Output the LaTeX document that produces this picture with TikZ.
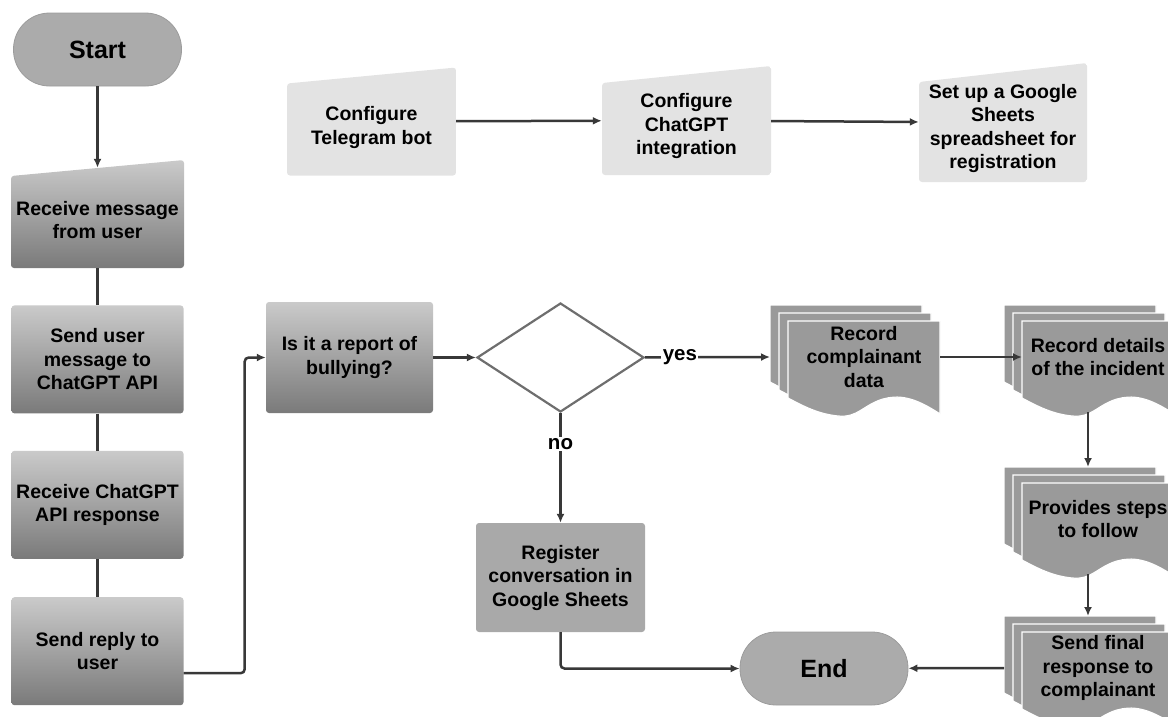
\documentclass[tikz,border=0pt]{standalone}
\usepackage{fontspec}
\setmainfont{Liberation Sans}
\usetikzlibrary{positioning,arrows.meta,shapes.geometric}
\definecolor{linegray}{HTML}{383838}
\definecolor{gtop}{HTML}{CACACA}
\definecolor{gbot}{HTML}{7A7A7A}
\definecolor{setfill}{HTML}{E3E3E3}
\definecolor{termfill}{HTML}{ABABAB}
\definecolor{termline}{HTML}{9C9C9C}
\definecolor{regfill}{HTML}{A9A9A9}
\definecolor{sheetfill}{HTML}{9A9A9A}
\definecolor{diagray}{HTML}{6E6E6E}
% extra room above the first line of a slanted box
\newcommand\slantpad{\rule{0pt}{26pt}}
\tikzset{
  >={Latex[length=9pt,width=8pt]},
  txt/.style={
    font=\bfseries\fontsize{19.5}{23.5}\selectfont,
    align=center,
    inner sep=2pt
  },
  conn/.style={draw=linegray, line width=2.5pt},
  lbl/.style={txt, font=\bfseries\fontsize{20.5}{24}\selectfont, fill=white, inner sep=1.5pt},
  term/.style={
    txt,
    font=\bfseries\fontsize{25}{30}\selectfont,
    fill=termfill,
    draw=termline,
    line width=0.8pt,
    rounded corners=36pt,
    minimum width=168pt,
    minimum height=73pt
  },
  stepbox/.style={
    txt,
    rounded corners=3pt,
    top color=gtop,
    bottom color=gbot,
    minimum width=172pt,
    minimum height=108pt
  },
  plainbox/.style={
    txt,
    rounded corners=3pt,
    fill=regfill,
    minimum width=169pt,
    minimum height=109pt
  },
  slantbox/.style={
    txt,
    rounded corners=3pt,
    minimum width=173pt,
    minimum height=108pt,
    path picture={\shade[top color=gtop, bottom color=gbot]
      ([yshift=-16pt]path picture bounding box.north west)
      -- (path picture bounding box.north east)
      -- (path picture bounding box.south east)
      -- (path picture bounding box.south west) -- cycle;}
  },
  setupbox/.style={
    txt,
    rounded corners=3pt,
    minimum width=169pt,
    minimum height=108pt,
    path picture={\fill[setfill]
      ([yshift=-#1]path picture bounding box.north west)
      -- (path picture bounding box.north east)
      -- (path picture bounding box.south east)
      -- (path picture bounding box.south west) -- cycle;}
  },
  setupbox/.default=16pt,
  decision/.style={
    diamond,
    draw=diagray,
    line width=2.2pt,
    fill=white,
    inner sep=0pt,
    minimum width=167pt,
    minimum height=109pt
  },
  sheet/.style={fill=sheetfill, draw=white, line width=1.2pt},
  pics/docstack/.style={code={
    \foreach \k in {0,1,2}
      \filldraw[sheet] (9*\k,8*\k) -- (9*\k+152,8*\k) -- (9*\k+152,8*\k+93)
        .. controls (9*\k+125,8*\k+75) and (9*\k+110,8*\k+74) .. (9*\k+95,8*\k+78)
        .. controls (9*\k+75,8*\k+84) and (9*\k+70,8*\k+97) .. (9*\k+50,8*\k+95)
        .. controls (9*\k+30,8*\k+93) and (9*\k+15,8*\k+85) .. (9*\k,8*\k+77) -- cycle;
    \node[txt] (-txt) at (94,52) {#1};
    \coordinate (-w) at (0,52);
    \coordinate (-fw) at (18,52);
    \coordinate (-e) at (170,52);
    \coordinate (-n) at (84,0);
    \coordinate (-s) at (84,107);
  }}
}

\begin{document}
\begin{tikzpicture}[x=1pt, y=-1pt]
  \useasboundingbox (0,0) rectangle (1168,716);

  % bot loop
  \node[term] (start) at (97.5,49.5) {Start};
  \node[slantbox] (recv) at (97.5,214) {\slantpad Receive message\\from user};
  \node[stepbox, below=37pt of recv] (ask) {Send user\\message to\\ChatGPT API};
  \node[stepbox, below=37pt of ask] (answer) {Receive ChatGPT\\API response};
  \node[stepbox, below=38pt of answer] (reply) {Send reply to\\user};

  % set-up
  \node[setupbox] (bot) at (371.5,121.5) {\slantpad Configure\\Telegram bot};
  \node[setupbox=17pt, minimum height=109pt] (gpt) at (686.5,120.5) {\slantpad Configure\\ChatGPT\\integration};
  \node[setupbox=19pt, minimum width=168pt, minimum height=119pt] (sheet) at (1003,122.5)
    {\slantpad Set up a Google\\Sheets\\spreadsheet for\\registration};

  % report handling
  \node[stepbox, minimum width=167pt, minimum height=111pt] (bully) at (349.5,357.5) {Is it a report of\\bullying?};
  \node[decision] (check) at (560.5,357.5) {};
  \node[plainbox] (log) at (560.5,577.5) {Register\\conversation in\\Google Sheets};
  \node[term] (end) at (824,668.5) {End};
  \pic (rec) at (770,305) {docstack={Record\\complainant\\data}};
  \pic (det) at (1004,305) {docstack={Record details\\of the incident}};
  \pic (steps) at (1004,467) {docstack={Provides steps\\to follow}};
  \pic (final) at (1004,616) {docstack={Send final\\response to\\complainant}};

  \draw[conn,->] (start.south) -- ([yshift=-8pt]recv.north);
  \draw[conn] (recv) -- (ask);
  \draw[conn] (ask) -- (answer);
  \draw[conn] (answer) -- (reply);
  \draw[conn,->,rounded corners=4pt] ([yshift=-22pt]reply.east) -- ++(61,0) |- (bully.west);
  \draw[conn,->] (bot) -- (gpt);
  \draw[conn,->] (gpt) -- (sheet);
  \draw[conn,->] (bully) -- (check);
  \draw[conn,->] (check) -- node[lbl, pos=.28] {yes} (rec-w);
  \draw[conn,->] (check) -- node[lbl, pos=.28] {no} (log);
  \draw[conn,->,rounded corners=4pt] (log.south) |- (end.west);
  \draw[conn,->] (rec-e) -- (det-fw);
  \draw[conn,->] (det-s) -- (steps-n);
  \draw[conn,->] (steps-s) -- (final-n);
  \draw[conn,->] (final-w) -- (end);
\end{tikzpicture}
\end{document}
